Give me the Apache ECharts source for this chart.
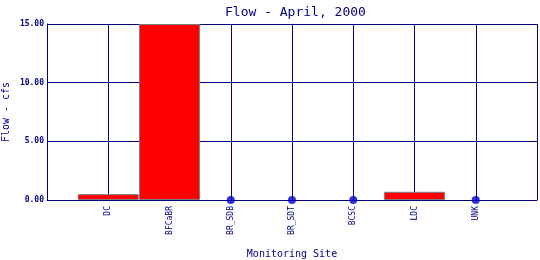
<!DOCTYPE html>
<html>
<head>
<meta charset="utf-8">
<script src="https://cdn.jsdelivr.net/npm/echarts@6/dist/echarts.min.js"></script>
<style>html,body{margin:0;padding:0;background:#fff;}#c{width:540px;height:260px;}</style>
</head>
<body>
<div id="c"></div>
<script>
var categories = ['', 'DC', 'BFCaBR', 'BR_SDB', 'BR_SDT', 'BCSC', 'LDC', 'UNK', ''];
var flowBars = ['-', 0.5, 15, '-', '-', '-', 0.7, '-', '-'];
var zeroPoints = ['-', '-', '-', 0, 0, 0, '-', 0, '-'];
var yTicks = [0, 5, 10, 15];

var navy = '#000080';
var font = '"DejaVu Sans Mono", monospace';
var chart = echarts.init(document.getElementById('c'), null, {renderer: 'canvas'});
chart.setOption({
  animation: false,
  backgroundColor: '#fff',
  title: {
    text: 'Flow - April, 2000',
    left: 220, top: 1,
    textStyle: {color: navy, fontFamily: font, fontSize: 13, fontWeight: 'normal'}
  },
  grid: {left: 47, right: 3, top: 24, bottom: 60, containLabel: false, outerBoundsMode: 'none'},
  xAxis: {
    type: 'category',
    data: categories,
    boundaryGap: false,
    name: 'Monitoring Site',
    nameLocation: 'middle',
    nameGap: 49,
    nameMoveOverlap: false,
    nameTextStyle: {color: navy, fontFamily: font, fontSize: 10},
    axisLine: {lineStyle: {color: navy, width: 1}},
    axisTick: {show: false},
    splitLine: {show: true, lineStyle: {color: navy, width: 1}},
    axisLabel: {interval: 0, rotate: 90, margin: 6, color: navy, fontFamily: font, fontSize: 8}
  },
  yAxis: {
    type: 'value',
    min: yTicks[0], max: yTicks[yTicks.length - 1], interval: 5,
    name: 'Flow - cfs',
    nameLocation: 'middle',
    nameGap: 36,
    nameMoveOverlap: false,
    nameTextStyle: {color: navy, fontFamily: font, fontSize: 10},
    axisLine: {show: true, lineStyle: {color: navy, width: 1}},
    axisTick: {show: false},
    splitLine: {show: true, lineStyle: {color: navy, width: 1}},
    axisLabel: {margin: 3, color: navy, fontFamily: font, fontSize: 8, fontWeight: 'bold',
      formatter: function (v) { return v.toFixed(2); }}
  },
  series: [
    {
      type: 'bar',
      data: flowBars,
      barWidth: 61,
      itemStyle: {color: '#ff0000', borderColor: '#808080', borderWidth: 1}
    },
    {
      type: 'scatter',
      data: zeroPoints,
      symbol: 'circle',
      symbolSize: 8,
      itemStyle: {color: '#0000cc'},
      z: 5
    }
  ]
});
</script>
</body>
</html>
